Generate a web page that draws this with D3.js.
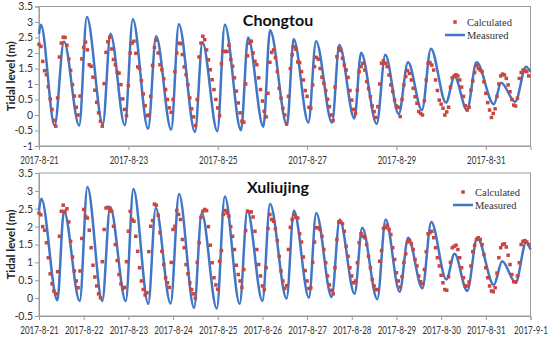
<!DOCTYPE html>
<html>
<head>
<meta charset="utf-8">
<script src="https://cdn.jsdelivr.net/npm/d3@7"></script>
<style>
  body { margin: 0; background: #fff; }
  svg { display: block; }
</style>
</head>
<body>
<svg id="chart" width="550" height="338"></svg>
<script>
// hourly calculated tidal levels (m) from 2017-8-21 00:00
const chongtouCalc = [
  2.28, 2.21, 1.73, 1.43, 1.30, 0.91, 0.52, 0.18, -0.17, -0.36,
  0.55, 1.87, 2.32, 2.51, 2.50, 2.25, 1.81, 1.44, 0.98, 0.61,
  0.25, 0.00, 0.61, 1.81, 2.18, 2.35, 2.10, 1.62, 1.57, 1.22,
  0.80, 0.41, 0.07, -0.20, -0.36, 1.01, 2.02, 2.36, 2.51, 2.13,
  1.79, 1.62, 1.38, 1.35, 0.98, 0.52, 0.18, -0.02, 0.95, 2.00,
  2.32, 2.38, 1.99, 1.55, 1.50, 1.11, 0.68, 0.30, -0.02, 0.00,
  0.60, 1.60, 2.18, 2.42, 2.00, 1.62, 1.46, 1.17, 0.82, 0.50,
  0.23, 0.09, 0.50, 1.40, 2.00, 2.32, 2.30, 1.95, 1.55, 1.30,
  0.98, 0.55, 0.20, -0.06, -0.34, 0.50, 1.87, 2.32, 2.54, 2.43,
  2.10, 1.78, 1.46, 1.14, 0.82, 0.50, 0.23, -0.02, 1.65, 2.05,
  2.05, 2.05, 2.25, 1.79, 1.57, 1.20, 0.77, 0.39, 0.07, -0.20,
  -0.23, 1.00, 1.91, 2.32, 2.38, 2.00, 1.73, 1.62, 1.20, 0.82,
  0.45, 0.12, -0.06, 0.70, 1.70, 2.02, 2.10, 1.85, 1.40, 0.86,
  0.54, 0.22, 0.00, -0.29, 0.60, 1.50, 1.94, 2.20, 2.12, 1.71,
  1.69, 1.40, 1.13, 0.79, 0.60, 0.25, 0.22, 0.97, 1.56, 1.86,
  1.80, 1.50, 1.22, 1.02, 0.79, 0.51, 0.27, 0.00, -0.18, 0.90,
  1.88, 2.15, 2.08, 1.83, 1.61, 1.45, 1.21, 0.79, 0.48, 0.18,
  0.05, 0.80, 1.40, 1.56, 1.67, 1.45, 1.08, 0.85, 0.59, 0.29,
  0.11, -0.08, 0.27, 1.00, 1.67, 1.75, 1.67, 1.56, 1.29, 0.97,
  0.76, 0.48, 0.29, 0.25, -0.05, 0.50, 0.97, 1.24, 1.43, 1.34,
  1.13, 0.86, 0.59, 0.38, 0.11, 0.05, 0.00, 0.46, 1.13, 1.67,
  1.69, 1.61, 1.45, 1.13, 0.79, 0.48, 0.35, 0.22, 0.00, 0.10,
  0.25, 0.90, 1.20, 1.26, 1.30, 1.26, 1.13, 0.90, 0.60, 0.30,
  0.16, 0.25, 0.80, 1.10, 1.37, 1.60, 1.50, 1.45, 1.40, 1.07,
  0.70, 0.40, 0.16, -0.08, 0.05, 0.20, 0.60, 1.00, 1.26, 1.32,
  1.29, 1.18, 0.97, 0.75, 0.50, 0.32, 0.29, 0.54, 1.18, 1.37,
  1.45, 1.43, 1.40, 1.26
];

const xuliujingCalc = [
  2.38, 2.33, 2.00, 1.90, 1.55, 1.13, 0.68, 0.40, 0.20, 0.12,
  0.74, 1.73, 2.43, 2.60, 2.43, 2.50, 2.13, 1.59, 1.15, 0.76,
  0.48, 0.29, 0.76, 1.67, 2.48, 2.29, 2.24, 1.90, 1.41, 0.92,
  0.59, 0.34, 0.12, 0.01, 1.02, 1.92, 2.52, 2.54, 2.48, 2.43,
  2.01, 1.50, 1.05, 0.66, 0.40, 0.27, 0.30, 1.02, 1.87, 2.43,
  2.20, 2.15, 1.73, 1.31, 0.85, 0.48, 0.24, 0.09, 0.15, 1.30,
  2.01, 2.17, 2.63, 2.60, 2.32, 1.83, 1.31, 0.94, 0.57, 0.43,
  0.30, 1.00, 1.92, 2.01, 2.45, 2.34, 2.20, 1.64, 1.41, 0.94,
  0.68, 0.43, 0.24, 0.12, 0.00, 1.00, 1.55, 2.26, 2.43, 2.48,
  2.45, 2.00, 1.48, 0.99, 0.57, 0.37, 0.25, 1.03, 1.33, 2.34,
  2.45, 2.38, 2.29, 2.00, 1.73, 1.36, 0.92, 0.66, 0.48, 0.30,
  0.80, 1.89, 2.43, 2.41, 2.41, 2.27, 1.87, 1.36, 0.94, 0.62,
  0.34, 0.24, 0.85, 1.95, 2.34, 2.20, 2.15, 1.94, 1.61, 1.17,
  0.76, 0.48, 0.27, 0.35, 1.36, 1.98, 2.20, 2.34, 2.26, 2.24,
  1.80, 1.57, 1.15, 0.77, 0.48, 0.27, 0.29, 1.00, 1.57, 1.97,
  1.97, 1.92, 1.73, 1.36, 0.99, 0.62, 0.37, 0.22, 0.12, 0.85,
  1.64, 2.13, 2.13, 2.08, 1.87, 1.45, 1.17, 0.85, 0.62, 0.43,
  0.48, 0.99, 1.55, 1.80, 1.73, 1.69, 1.50, 1.17, 0.85, 0.52,
  0.34, 0.24, 0.24, 1.03, 1.33, 1.95, 1.97, 2.04, 1.92, 1.78,
  1.41, 1.08, 0.71, 0.48, 0.31, 0.60, 1.00, 1.24, 1.57, 1.61,
  1.52, 1.36, 1.08, 0.90, 0.62, 0.46, 0.40, 0.80, 1.30, 1.80,
  1.83, 1.87, 1.69, 1.41, 1.13, 0.90, 0.64, 0.43, 0.24, 0.22,
  0.60, 1.00, 1.41, 1.45, 1.48, 1.36, 1.13, 0.85, 0.57, 0.34,
  0.34, 0.45, 0.90, 1.30, 1.48, 1.64, 1.69, 1.64, 1.50, 1.22,
  0.85, 0.57, 0.34, 0.20, 0.18, 0.29, 0.70, 1.13, 1.41, 1.50,
  1.52, 1.43, 1.20, 0.94, 0.66, 0.46, 0.46, 0.62, 0.99, 1.50,
  1.59, 1.61, 1.57, 1.50
];

// measured curve: [hours after 2017-8-21 00:00, level (m)] at turning points
const chongtouMeasured = [
  [0, 2.62], [1.0, 2.91], [8.4, -0.34], [13.4, 2.37], [21.6, -0.34], [25.7, 3.16],
  [34.3, -0.30], [38.4, 2.62], [46.1, -0.33], [50.4, 3.09], [58.6, -0.44], [62.9, 2.54],
  [71.0, -0.47], [75.1, 2.93], [83.8, -0.55], [87.8, 2.35], [95.8, -0.52], [99.8, 2.91],
  [108.5, -0.49], [112.3, 2.50], [120.5, -0.38], [124.1, 2.73], [133.2, -0.32], [136.8, 2.45],
  [144.7, -0.25], [148.8, 2.38], [157.4, -0.25], [161.3, 2.26], [169.4, -0.11], [173.0, 2.01],
  [181.4, -0.29], [186.0, 1.94], [193.2, 0.03], [198.2, 1.70], [205.7, 0.16], [210.5, 2.14],
  [218.6, 0.40], [223.2, 1.24], [229.9, 0.16], [235.0, 1.70], [244.3, 0.35], [248.2, 1.04],
  [255.8, 0.43], [261.6, 1.56], [264, 1.40]
];

const xuliujingMeasured = [
  [0, 2.45], [1.25, 2.78], [9.85, -0.06], [13.4, 2.43], [21.9, -0.08], [26.0, 3.11],
  [34.0, -0.08], [38.2, 2.55], [46.6, -0.08], [50.7, 3.05], [58.7, -0.16], [62.7, 2.52],
  [70.7, -0.15], [75.2, 2.91], [83.3, -0.27], [87.4, 2.38], [95.5, -0.29], [99.8, 2.84],
  [107.8, -0.16], [111.9, 2.45], [120.0, -0.08], [124.1, 2.63], [133.0, -0.01], [136.9, 2.45],
  [145.0, 0.01], [148.9, 2.38], [157.2, 0.03], [161.5, 2.20], [169.5, 0.12], [173.6, 1.97],
  [181.7, -0.03], [186.2, 2.20], [193.7, 0.18], [198.3, 1.69], [205.9, 0.27], [210.7, 2.13],
  [218.8, 0.52], [223.2, 1.24], [230.0, 0.20], [235.4, 1.69], [244.3, 0.37], [248.8, 1.03],
  [256.0, 0.43], [261.7, 1.57], [264, 1.36]
];

// tick labels
const chongtouDateTicks = ['2017-8-21', '2017-8-23', '2017-8-25', '2017-8-27', '2017-8-29', '2017-8-31'];
const xuliujingDateTicks = ['2017-8-21', '2017-8-22', '2017-8-23', '2017-8-24', '2017-8-25', '2017-8-26',
  '2017-8-27', '2017-8-28', '2017-8-29', '2017-8-30', '2017-8-31', '2017-9-1'];
const chongtouLevelTicks = [-1, -0.5, 0, 0.5, 1, 1.5, 2, 2.5, 3, 3.5];
const xuliujingLevelTicks = [-0.5, 0, 0.5, 1, 1.5, 2, 2.5, 3, 3.5];

const seriesNames = ['Calculated', 'Measured'];

const sans = 'Lato, "Open Sans", sans-serif';
const blue = '#3f76c6';
const red = '#c8463f';
const gridGray = '#9c9c9c';

const startDate = new Date(2017, 7, 21);
const endDate = new Date(2017, 8, 1);
const hourDate = h => new Date(+startDate + h * 3600e3);
const parseDay = s => {
  let p = s.split('-').map(Number);
  return new Date(p[0], p[1] - 1, p[2]);
};
const dayLabel = d => d.getFullYear() + '-' + (d.getMonth() + 1) + '-' + d.getDate();
// target width of a date label in a narrow (Calibri-like) face
const labelWidth = s => s.replace(/-/g, '').length * 4.7 + (s.split('-').length - 1) * 2.8;

const svg = d3.select('#chart');

function drawPanel(cfg) {
  let x = d3.scaleTime().domain([startDate, endDate]).range([39, 530.5]);
  let y = d3.scaleLinear().domain(cfg.yDomain).range([cfg.bottom, cfg.top]);

  let g = svg.append('g');

  // plot area frame
  g.append('rect')
    .attr('x', 39).attr('y', cfg.top)
    .attr('width', 491.5).attr('height', cfg.bottom - cfg.top)
    .attr('fill', 'none').attr('stroke', gridGray).attr('stroke-width', 1);

  let yAxis = g.append('g')
    .attr('transform', 'translate(39,0)')
    .call(d3.axisLeft(y).tickValues(cfg.levelTicks).tickSize(4).tickPadding(2)
      .tickFormat(d => String(d)));

  let xAxis = g.append('g')
    .attr('transform', 'translate(0,' + cfg.bottom + ')')
    .call(d3.axisBottom(x).tickValues(cfg.dateTicks.map(parseDay)).tickSize(4).tickPadding(6.5)
      .tickFormat(dayLabel));

  [yAxis, xAxis].forEach(a => {
    a.select('.domain').attr('stroke', gridGray);
    a.selectAll('.tick line').attr('stroke', gridGray);
    a.selectAll('.tick text')
      .attr('fill', '#333')
      .style('font-family', sans)
      .style('font-size', '10.5px');
  });

  // squeeze the date labels horizontally so neighbours do not collide
  xAxis.selectAll('.tick text').each(function() {
    let t = d3.select(this);
    let k = labelWidth(t.text()) / this.getComputedTextLength();
    if (k < 1) t.attr('transform', 'scale(' + k + ',1)');
  });

  // axis title
  g.append('text')
    .attr('transform', 'translate(15,' + (cfg.top + cfg.bottom) / 2 + ') rotate(-90)')
    .attr('text-anchor', 'middle')
    .style('font-family', sans)
    .style('font-size', '11.5px')
    .style('font-weight', 'bold')
    .attr('fill', '#222')
    .text('Tidal level (m)');

  // panel title
  g.append('text')
    .attr('x', 278).attr('y', cfg.titleY)
    .attr('text-anchor', 'middle')
    .style('font-family', 'Lato, sans-serif')
    .style('font-size', '16px')
    .style('font-weight', 'bold')
    .attr('fill', '#111')
    .text(cfg.title);

  // measured line
  let line = d3.line()
    .x(d => x(hourDate(d[0])))
    .y(d => y(d[1]))
    .curve(d3.curveMonotoneX);

  g.append('path')
    .datum(cfg.measured)
    .attr('d', line)
    .attr('fill', 'none')
    .attr('stroke', blue)
    .attr('stroke-width', 2.5);

  // calculated squares
  g.append('g')
    .selectAll('rect')
    .data(cfg.calc)
    .join('rect')
    .attr('x', (d, i) => x(hourDate(i)) - 1.75)
    .attr('y', d => y(d) - 1.75)
    .attr('width', 3.5)
    .attr('height', 3.5)
    .attr('fill', red);

  // legend
  let lg = g.append('g').attr('transform', 'translate(' + cfg.legendX + ',' + cfg.legendY + ')');
  lg.append('rect').attr('x', -1.75).attr('y', -1.75).attr('width', 3.5).attr('height', 3.5).attr('fill', red);
  lg.append('line').attr('x1', -10).attr('x2', 10).attr('y1', 13).attr('y2', 13)
    .attr('stroke', blue).attr('stroke-width', 2.5);
  lg.selectAll('text')
    .data(seriesNames)
    .join('text')
    .attr('x', 12)
    .attr('y', (d, i) => i * 13 + 3.5)
    .style('font-family', '"Liberation Serif", "Times New Roman", serif')
    .style('font-size', '10.5px')
    .attr('fill', '#333')
    .text(d => d);
}

drawPanel({
  title: 'Chongtou', titleY: 26,
  top: 6.5, bottom: 146, yDomain: [-1, 3.5],
  levelTicks: chongtouLevelTicks, dateTicks: chongtouDateTicks,
  calc: chongtouCalc, measured: chongtouMeasured,
  legendX: 455, legendY: 22
});

drawPanel({
  title: 'Xuliujing', titleY: 193,
  top: 173, bottom: 316, yDomain: [-0.5, 3.5],
  levelTicks: xuliujingLevelTicks, dateTicks: xuliujingDateTicks,
  calc: xuliujingCalc, measured: xuliujingMeasured,
  legendX: 463, legendY: 192
});
</script>
</body>
</html>
